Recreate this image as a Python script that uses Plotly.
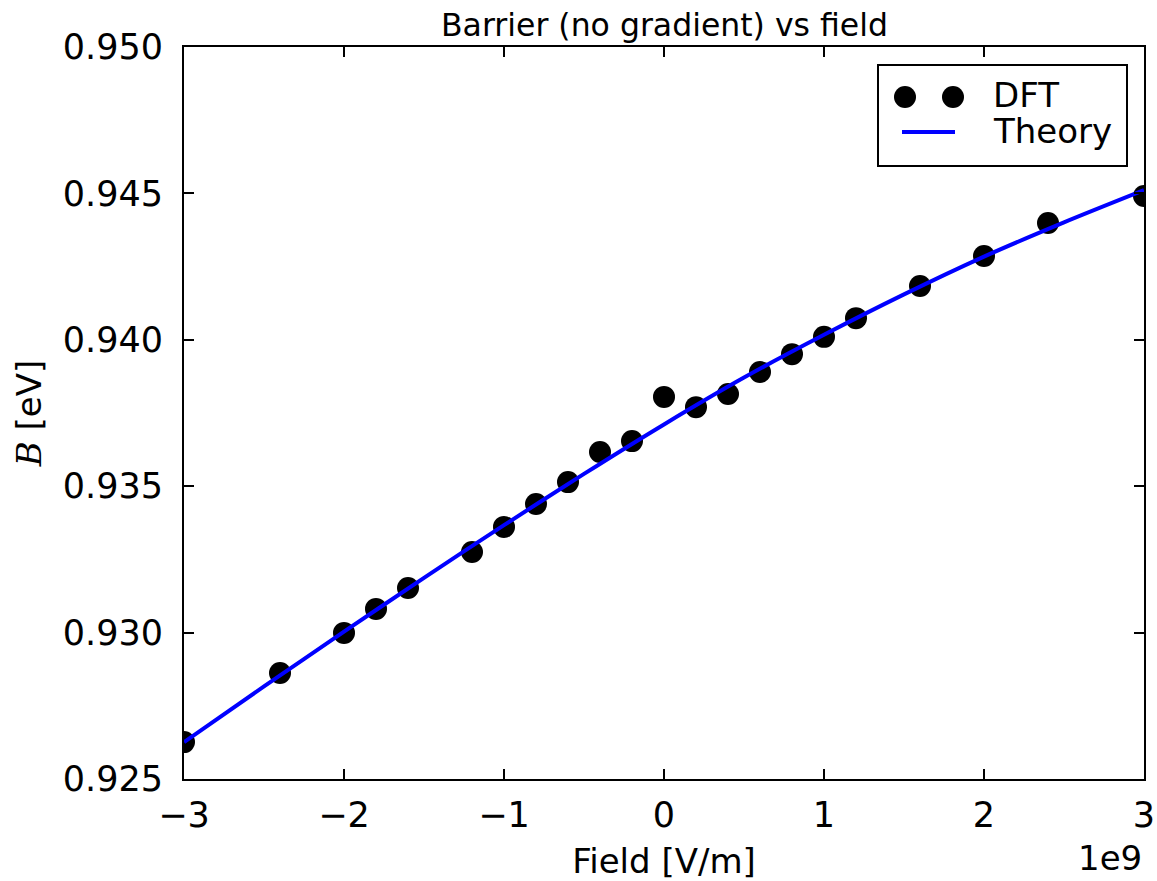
import plotly.graph_objects as go

# ---- data ----
field_dft = [-3.0e9, -2.4e9, -2.0e9, -1.8e9, -1.6e9, -1.2e9, -1.0e9, -0.8e9, -0.6e9,
             -0.4e9, -0.2e9, 0.0, 0.2e9, 0.4e9, 0.6e9, 0.8e9, 1.0e9, 1.2e9, 1.6e9,
             2.0e9, 2.4e9, 3.0e9]
barrier_dft = [0.92626, 0.92862, 0.92999, 0.93081, 0.93152, 0.93275, 0.93361, 0.93439,
               0.93514, 0.93617, 0.93654, 0.93805, 0.93770, 0.93815, 0.93890, 0.93951,
               0.94010, 0.94074, 0.94184, 0.94286, 0.94399, 0.94491]

field_theory = [-3.0e9, -2.5e9, -2.0e9, -1.5e9, -1.0e9, -0.5e9, 0.0, 0.5e9, 1.0e9,
                1.5e9, 2.0e9, 2.5e9, 3.0e9]
barrier_theory = [0.92626, 0.92816, 0.93003, 0.93187, 0.93367, 0.93542, 0.93711,
                  0.93871, 0.94017, 0.94155, 0.94284, 0.94401, 0.94511]

x_tickvals = [-3e9, -2e9, -1e9, 0, 1e9, 2e9, 3e9]
x_ticktext = ["\u22123", "\u22122", "\u22121", "0", "1", "2", "3"]
y_tickvals = [0.925, 0.930, 0.935, 0.940, 0.945, 0.950]
y_ticktext = ["0.925", "0.930", "0.935", "0.940", "0.945", "0.950"]

FONT = "DejaVu Sans"
W, H = 1157, 881
L, R, T, B = 184, 13, 47, 102
PW, PH = W - L - R, H - T - B


def px(xp):
    return (xp - L) / PW


def py(yp):
    return (H - B - yp) / PH


fig = go.Figure()
fig.add_trace(go.Scatter(x=field_dft, y=barrier_dft, mode="markers", name="DFT",
                         marker=dict(color="black", size=22), showlegend=False))
fig.add_trace(go.Scatter(x=field_theory, y=barrier_theory, mode="lines", name="Theory",
                         line=dict(color="#0000ff", width=4, shape="spline", smoothing=0.8),
                         showlegend=False))

axis_common = dict(showline=True, linecolor="black", linewidth=2, mirror="allticks",
                   ticks="inside", ticklen=10, tickwidth=1.5, tickcolor="black",
                   showgrid=False, zeroline=False, automargin=False,
                   tickfont=dict(family=FONT, size=35, color="black"))

fig.update_xaxes(range=[-3e9, 3e9], tickmode="array", tickvals=x_tickvals,
                 ticktext=x_ticktext, ticklabelstandoff=4,
                 title=dict(text="Field [V/m]", font=dict(family=FONT, size=34, color="black"),
                            standoff=15),
                 **axis_common)
fig.update_yaxes(range=[0.925, 0.950], tickmode="array", tickvals=y_tickvals,
                 ticktext=y_ticktext, ticklabelstandoff=12,
                 title=dict(text="<span style='font-family:DejaVu Serif'><i>B</i></span> [eV]",
                            font=dict(family=FONT, size=34, color="black"), standoff=11),
                 **axis_common)

shapes = []
# legend box
shapes.append(dict(type="rect", xref="paper", yref="paper", x0=px(878), x1=px(1127),
                   y0=py(166), y1=py(65), line=dict(color="black", width=2),
                   fillcolor="white", layer="above"))
# legend markers (two dots)
for cx in (905, 953):
    shapes.append(dict(type="circle", xref="paper", yref="paper", xsizemode="pixel",
                       ysizemode="pixel", xanchor=px(cx), yanchor=py(97),
                       x0=-11, x1=11, y0=-11, y1=11, fillcolor="black",
                       line=dict(color="black", width=0), layer="above"))
# legend line
shapes.append(dict(type="line", xref="paper", yref="paper", x0=px(902), x1=px(955),
                   y0=py(132), y1=py(132), line=dict(color="#0000ff", width=4),
                   layer="above"))

annotations = [
    dict(text="Barrier (no gradient) vs field", xref="paper", yref="paper", x=0.5, y=1,
         xanchor="center", yanchor="bottom", yshift=2, showarrow=False,
         font=dict(family=FONT, size=31.5, color="black")),
    dict(text="1e9", xref="paper", yref="paper", x=1, y=0, xanchor="right", yanchor="top",
         yshift=-57, xshift=0, showarrow=False,
         font=dict(family=FONT, size=34, color="black")),
    dict(text="DFT", xref="paper", yref="paper", x=px(991), y=py(95), xanchor="left",
         yanchor="middle", showarrow=False, font=dict(family=FONT, size=34, color="black")),
    dict(text="Theory", xref="paper", yref="paper", x=px(991), y=py(131), xanchor="left",
         yanchor="middle", showarrow=False, font=dict(family=FONT, size=34, color="black")),
]

fig.update_layout(width=W, height=H, margin=dict(l=L, r=R, t=T, b=B, pad=0),
                  paper_bgcolor="white", plot_bgcolor="white",
                  font=dict(family=FONT, color="black"),
                  shapes=shapes, annotations=annotations, showlegend=False)

fig.write_html("out.html")
